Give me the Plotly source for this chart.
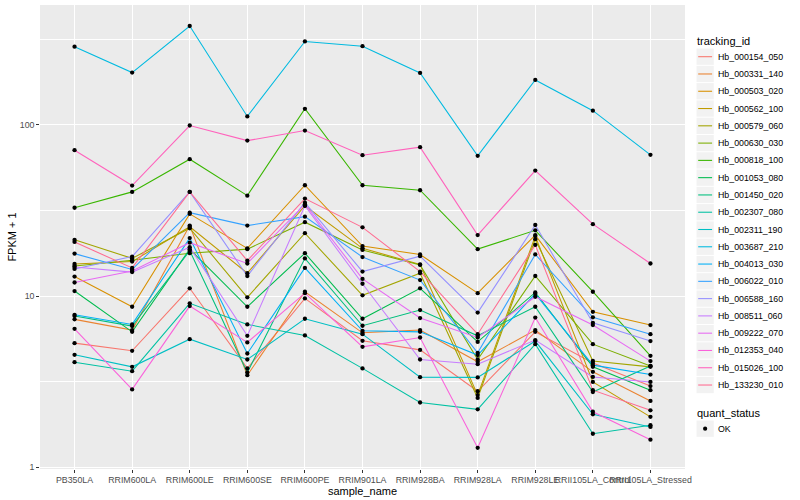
import plotly.graph_objects as go

# ---------------- data ----------------
samples = ["PB350LA", "RRIM600LA", "RRIM600LE", "RRIM600SE", "RRIM600PE",
           "RRIM901LA", "RRIM928BA", "RRIM928LA", "RRIM928LE",
           "RRII105LA_Control", "RRII105LA_Stressed"]

tracking_ids = ["Hb_000154_050", "Hb_000331_140", "Hb_000503_020", "Hb_000562_100",
                "Hb_000579_060", "Hb_000630_030", "Hb_000818_100", "Hb_001053_080",
                "Hb_001450_020", "Hb_002307_080", "Hb_002311_190", "Hb_003687_210",
                "Hb_004013_030", "Hb_006022_010", "Hb_006588_160", "Hb_008511_060",
                "Hb_009222_070", "Hb_012353_040", "Hb_015026_100", "Hb_133230_010"]

colors = ["#F8766D", "#EA8331", "#D89000", "#C09B00", "#A3A500", "#7CAE00", "#39B600",
          "#00BB4E", "#00BF7D", "#00C1A3", "#00BFC4", "#00BAE0", "#00B0F6", "#35A2FF",
          "#9590FF", "#C77CFF", "#E76BF3", "#FA62DB", "#FF62BC", "#FF6C91"]

# FPKM + 1 per sample (order of `samples`)
hb_000154_050 = [5.31, 4.79, 11.1, 3.78, 9.69, 5.48, 4.85, 2.78, 6.18, 4.07, 2.98]
hb_000331_140 = [7.31, 6.33, 25.8, 3.45, 10.6, 6.10, 6.33, 4.13, 6.33, 3.61, 2.44]
hb_000503_020 = [13.0, 8.66, 30.2, 19.0, 44.4, 19.6, 17.5, 10.4, 22.7, 8.09, 6.77]
hb_000562_100 = [15.4, 15.9, 25.4, 13.6, 33.7, 19.0, 15.3, 2.64, 22.4, 3.15, 1.97]
hb_000579_060 = [21.3, 16.6, 24.9, 9.83, 23.3, 10.1, 13.6, 2.54, 21.5, 4.18, 3.86]
hb_000630_030 = [15.0, 16.2, 17.8, 18.8, 27.0, 18.6, 15.2, 4.26, 13.1, 5.24, 3.91]
hb_000818_100 = [32.8, 40.6, 63.0, 38.6, 124.1, 44.4, 41.5, 18.8, 24.2, 10.6, 4.48]
hb_001053_080 = [10.7, 6.18, 18.8, 8.66, 17.8, 7.37, 11.1, 5.40, 10.5, 3.86, 2.82]
hb_001450_020 = [7.64, 6.68, 18.4, 3.58, 16.6, 6.71, 8.28, 5.86, 8.66, 2.75, 3.90]
hb_002307_080 = [4.11, 3.64, 9.07, 6.83, 5.89, 3.78, 2.39, 2.18, 5.24, 1.57, 1.76]
hb_002311_190 = [4.54, 3.86, 5.60, 4.26, 7.37, 5.99, 3.36, 3.35, 5.46, 2.04, 1.72]
hb_003687_210 = [286, 202, 378, 112, 307, 288, 201, 65.9, 183, 121, 66.8]
hb_004013_030 = [7.77, 6.83, 21.8, 4.62, 14.6, 6.27, 6.18, 4.52, 10.3, 3.95, 3.48]
hb_006022_010 = [17.7, 14.3, 30.7, 25.8, 29.1, 16.9, 12.4, 4.66, 17.5, 7.51, 5.99]
hb_006588_160 = [14.4, 17.0, 40.6, 13.1, 35.1, 13.9, 17.1, 8.01, 26.0, 6.98, 5.46]
hb_008511_060 = [14.8, 13.8, 19.3, 5.86, 33.7, 11.8, 4.26, 4.00, 5.53, 3.37, 3.15]
hb_009222_070 = [12.0, 14.0, 20.5, 15.5, 34.4, 12.6, 7.44, 5.73, 9.91, 6.77, 4.17]
hb_012353_040 = [6.44, 2.85, 8.74, 5.36, 10.4, 5.05, 5.73, 1.30, 7.49, 2.11, 1.45]
hb_015026_100 = [71.1, 44.2, 99.1, 80.9, 92.6, 66.5, 74.1, 22.7, 54.1, 26.3, 15.5]
hb_133230_010 = [20.7, 14.6, 40.6, 16.1, 37.1, 25.2, 13.9, 5.99, 19.9, 2.82, 2.15]

series_values = [hb_000154_050, hb_000331_140, hb_000503_020, hb_000562_100,
                 hb_000579_060, hb_000630_030, hb_000818_100, hb_001053_080,
                 hb_001450_020, hb_002307_080, hb_002311_190, hb_003687_210,
                 hb_004013_030, hb_006022_010, hb_006588_160, hb_008511_060,
                 hb_009222_070, hb_012353_040, hb_015026_100, hb_133230_010]

quant_levels = ["OK"]

y_tickvals = [1, 10, 100]
y_ticktext = ["1", "10", "100"]
y_minor = [10 ** 0.5, 10 ** 1.5, 10 ** 2.5]

# ---------------- layout constants ----------------
W, H = 800, 500
L, R, T, B = 40, 115, 5, 31
PW, PH = W - L - R, H - T - B
FONT = "Liberation Sans, Arial, sans-serif"


def px(x):
    return (x - L) / PW


def py(y):
    return 1 - (y - T) / PH


fig = go.Figure()

# lines first (ggplot geom_line layer)
for name, col, vals in zip(tracking_ids, colors, series_values):
    fig.add_trace(go.Scatter(x=samples, y=vals, mode="lines", name=name,
                             line=dict(color=col, width=1.07),
                             showlegend=False, hoverinfo="skip"))
# points on top (geom_point layer)
for name, vals in zip(tracking_ids, series_values):
    fig.add_trace(go.Scatter(x=samples, y=vals, mode="markers", name=name,
                             marker=dict(color="black", size=4.3, symbol="circle",
                                         line=dict(width=0)),
                             showlegend=False))

# ---------------- manual ggplot-style legend ----------------
shapes = []
annotations = []
KEY = 17.28
kx0, kx1 = 696.5, 696.5 + KEY
tx = 715.5
title_y = 40.7
first_y = 56.7

annotations.append(dict(x=px(695), y=py(title_y), xref="paper", yref="paper",
                        text="tracking_id", showarrow=False, xanchor="left",
                        yanchor="middle", font=dict(family=FONT, size=11, color="black")))
for i, (name, col) in enumerate(zip(tracking_ids, colors)):
    cy = first_y + i * KEY
    shapes.append(dict(type="rect", xref="paper", yref="paper",
                       x0=px(kx0), x1=px(kx1), y0=py(cy - KEY / 2 + 0.5), y1=py(cy + KEY / 2 - 0.5),
                       fillcolor="#F2F2F2", line=dict(width=0), layer="above"))
    shapes.append(dict(type="line", xref="paper", yref="paper",
                       x0=px(kx0 + 1.7), x1=px(kx1 - 1.7), y0=py(cy), y1=py(cy),
                       line=dict(color=col, width=1.07), layer="above"))
    annotations.append(dict(x=px(tx), y=py(cy), xref="paper", yref="paper",
                            text=name, showarrow=False, xanchor="left", yanchor="middle",
                            font=dict(family=FONT, size=8.8, color="black")))

q_title_y = 412.7
annotations.append(dict(x=px(695), y=py(q_title_y), xref="paper", yref="paper",
                        text="quant_status", showarrow=False, xanchor="left",
                        yanchor="middle", font=dict(family=FONT, size=11, color="black")))
for j, lev in enumerate(quant_levels):
    cy = q_title_y + (first_y - title_y) + j * KEY
    shapes.append(dict(type="rect", xref="paper", yref="paper",
                       x0=px(kx0), x1=px(kx1), y0=py(cy - KEY / 2 + 0.5), y1=py(cy + KEY / 2 - 0.5),
                       fillcolor="#F2F2F2", line=dict(width=0), layer="above"))
    cx = (kx0 + kx1) / 2
    shapes.append(dict(type="circle", xref="paper", yref="paper",
                       x0=px(cx - 2.1), x1=px(cx + 2.1), y0=py(cy - 2.1), y1=py(cy + 2.1),
                       fillcolor="black", line=dict(width=0), layer="above"))
    annotations.append(dict(x=px(tx), y=py(cy), xref="paper", yref="paper",
                            text=lev, showarrow=False, xanchor="left", yanchor="middle",
                            font=dict(family=FONT, size=8.8, color="black")))

fig.update_layout(
    width=W, height=H,
    margin=dict(l=L, r=R, t=T, b=B, autoexpand=False),
    paper_bgcolor="white", plot_bgcolor="#EBEBEB",
    font=dict(family=FONT, size=11, color="black"),
    showlegend=False,
    shapes=shapes, annotations=annotations,
    xaxis=dict(type="category", categoryorder="array", categoryarray=samples,
               range=[-0.6, len(samples) - 0.4],
               showgrid=True, gridcolor="white", gridwidth=1.07,
               ticks="outside", ticklen=2.75, tickwidth=1, tickcolor="#333333",
               tickangle=0,
               tickfont=dict(family=FONT, size=8.8, color="#4D4D4D"),
               showline=False, zeroline=False, automargin=False,
               title=dict(text="sample_name", standoff=0,
                          font=dict(family=FONT, size=11, color="black"))),
    yaxis=dict(type="log", range=[-0.01, 2.70],
               tickmode="array", tickvals=y_tickvals, ticktext=y_ticktext,
               showgrid=True, gridcolor="white", gridwidth=1.07,
               minor=dict(tickmode="array", tickvals=y_minor, showgrid=True,
                          gridcolor="white", gridwidth=0.53, ticks=""),
               ticks="outside", ticklen=2.75, tickwidth=1, tickcolor="#333333",
               tickfont=dict(family=FONT, size=8.8, color="#4D4D4D"),
               showline=False, zeroline=False, automargin=False,
               title=dict(text="FPKM + 1", standoff=0,
                          font=dict(family=FONT, size=11, color="black"))),
)

fig.write_html("out.html",
               config={"displayModeBar": False},
               post_script="document.body.style.margin='0px';document.body.style.padding='0px';")
